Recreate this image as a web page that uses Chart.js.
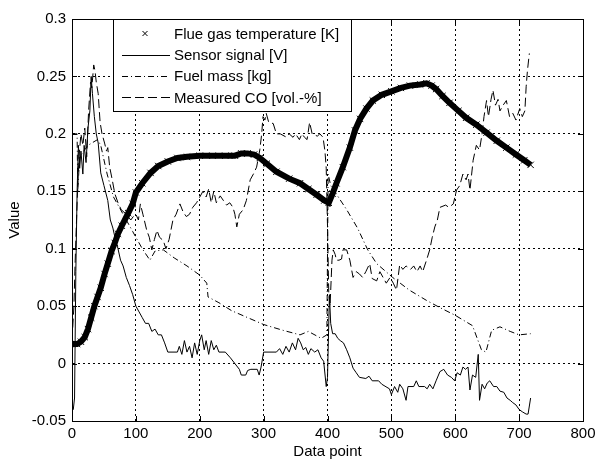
<!DOCTYPE html>
<html lang="en">
<head>
  <meta charset="UTF-8">
  <title>Value vs data point</title>
  <script src="https://cdn.jsdelivr.net/npm/chart.js@4.4.1/dist/chart.umd.min.js"></script>
  <style>
    body { margin: 0; background: #fff; }
    #wrap { width: 596px; height: 461px; }
  </style>
</head>
<body>
  <div id="wrap"><canvas id="myChart" width="596" height="461"></canvas></div>
  <script>
    const seriesNames = ['Flue gas temperature [K]', 'Sensor signal [V]', 'Fuel mass [kg]', 'Measured CO [vol.-%]'];
    const xTicks = [0, 100, 200, 300, 400, 500, 600, 700, 800];
    const yTicks = [-0.05, 0, 0.05, 0.1, 0.15, 0.2, 0.25, 0.3];

    // flue gas temperature (scaled)
    const tempX = [0, 8, 14, 20, 25, 30, 35, 40, 45, 51, 56, 62, 67, 72, 78, 88, 95, 100, 110, 123, 135, 150, 165, 180, 200, 220, 240, 255, 265, 275, 285, 294, 305, 320, 340, 357, 370, 383, 395, 402, 408, 414, 424, 435, 443, 451, 461, 471, 485, 500, 515, 529, 545, 555, 563, 570, 580, 591, 605, 617, 633, 649, 665, 680, 695, 708, 718];
    const tempY = [0.017, 0.017, 0.019, 0.023, 0.03, 0.04, 0.05, 0.058, 0.066, 0.078, 0.087, 0.098, 0.105, 0.113, 0.12, 0.131, 0.139, 0.149, 0.157, 0.166, 0.172, 0.176, 0.179, 0.18, 0.181, 0.181, 0.181, 0.181, 0.183, 0.183, 0.182, 0.179, 0.174, 0.167, 0.161, 0.157, 0.152, 0.147, 0.142, 0.14, 0.148, 0.157, 0.171, 0.188, 0.203, 0.213, 0.222, 0.229, 0.234, 0.237, 0.24, 0.242, 0.243, 0.244, 0.242, 0.239, 0.233, 0.227, 0.22, 0.214, 0.208, 0.201, 0.194, 0.188, 0.182, 0.177, 0.173];

    const sensorX = [0, 2, 4, 6, 8, 10, 12, 14, 17, 19, 22, 25, 28, 30, 32, 35, 38, 41, 45, 50, 56, 60, 64, 68, 72, 76, 80, 85, 90, 95, 100, 105, 110, 115, 120, 125, 130, 135, 140, 145, 150, 165, 168, 172, 176, 180, 184, 188, 192, 196, 200, 203, 207, 210, 214, 218, 222, 226, 230, 240, 248, 255, 262, 265, 272, 275, 280, 290, 293, 296, 300, 320, 325, 330, 335, 340, 345, 350, 354, 358, 362, 366, 370, 374, 380, 385, 390, 394, 398, 400, 403, 405, 408, 412, 416, 420, 425, 430, 435, 440, 445, 450, 460, 465, 470, 480, 485, 497, 500, 505, 510, 513, 518, 523, 526, 535, 539, 543, 552, 556, 560, 565, 570, 576, 582, 588, 594, 599, 603, 608, 612, 616, 620, 623, 627, 632, 636, 638, 642, 646, 650, 654, 660, 665, 670, 676, 681, 686, 690, 695, 700, 705, 711, 714, 718];
    const sensorY = [-0.038, -0.04, -0.03, 0.08, 0.15, 0.19, 0.17, 0.185, 0.165, 0.19, 0.175, 0.205, 0.22, 0.25, 0.235, 0.215, 0.2, 0.192, 0.166, 0.155, 0.142, 0.125, 0.118, 0.108, 0.1, 0.09, 0.085, 0.075, 0.068, 0.06, 0.05, 0.045, 0.04, 0.035, 0.035, 0.028, 0.03, 0.025, 0.025, 0.018, 0.01, 0.01, 0.015, 0.008, 0.02, 0.01, 0.015, 0.005, 0.018, 0.008, 0.02, 0.025, 0.012, 0.02, 0.008, 0.02, 0.012, 0.016, 0.01, 0.01, 0.005, 0.0, -0.005, -0.01, -0.01, -0.006, -0.005, -0.005, -0.01, -0.003, 0.01, 0.01, 0.013, 0.008, 0.015, 0.01, 0.018, 0.012, 0.022, 0.018, 0.012, 0.014, 0.008, 0.013, 0.01, 0.012, 0.005, 0.002, -0.02, -0.012, 0.06, 0.035, 0.026, 0.026, 0.022, 0.02, 0.018, 0.012, 0.005, -0.004, -0.008, -0.012, -0.013, -0.011, -0.015, -0.015, -0.018, -0.022, -0.027, -0.02, -0.025, -0.018, -0.022, -0.032, -0.02, -0.02, -0.015, -0.02, -0.02, -0.022, -0.018, -0.022, -0.015, -0.007, -0.005, -0.01, -0.012, -0.015, -0.008, -0.01, -0.003, -0.005, -0.003, -0.023, -0.01, -0.012, 0.008, -0.032, -0.018, -0.022, -0.017, -0.015, -0.02, -0.02, -0.024, -0.025, -0.03, -0.032, -0.034, -0.036, -0.04, -0.042, -0.044, -0.044, -0.03];

    const fuelX = [0, 8, 9, 12, 25, 40, 45, 55, 65, 75, 85, 95, 103, 110, 122, 130, 143, 160, 180, 200, 211, 213, 230, 250, 275, 300, 330, 357, 370, 390, 399, 401, 405, 430, 447, 463, 477, 502, 528, 555, 575, 600, 627, 641, 648, 657, 670, 686, 700, 718];
    const fuelY = [0.2, 0.2, 0.15, 0.18, 0.19, 0.195, 0.19, 0.165, 0.145, 0.135, 0.125, 0.115, 0.107, 0.1, 0.09, 0.098, 0.099, 0.092, 0.085, 0.077, 0.07, 0.058, 0.053, 0.046, 0.04, 0.034, 0.029, 0.025, 0.028, 0.022, 0.025, 0.165, 0.155, 0.134, 0.118, 0.099, 0.087, 0.075, 0.064, 0.055, 0.049, 0.042, 0.033, 0.012, 0.01, 0.029, 0.032, 0.028, 0.025, 0.026];

    const coX = [0, 3, 5, 8, 11, 14, 17, 20, 23, 26, 29, 31, 34, 36, 38, 41, 44, 47, 51, 54, 56, 59, 63, 67, 72, 77, 85, 92, 96, 100, 104, 107, 111, 117, 121, 125, 129, 133, 137, 143, 147, 152, 158, 163, 169, 174, 179, 184, 189, 195, 200, 205, 210, 214, 218, 222, 226, 232, 237, 242, 247, 252, 255, 258, 262, 268, 273, 279, 284, 289, 294, 297, 299, 302, 304, 308, 315, 320, 326, 336, 340, 346, 350, 356, 360, 364, 368, 372, 376, 384, 388, 393, 396, 398, 400, 402, 404, 407, 409, 412, 414, 418, 422, 424, 430, 435, 440, 445, 450, 455, 460, 466, 470, 477, 482, 487, 492, 498, 503, 508, 513, 518, 523, 530, 535, 540, 545, 549, 555, 560, 564, 568, 572, 576, 585, 590, 597, 602, 607, 612, 617, 620, 623, 628, 633, 638, 642, 645, 649, 652, 656, 659, 663, 667, 670, 675, 680, 685, 690, 695, 701, 705, 709, 711, 713, 716];
    const coY = [0.02, 0.05, 0.09, 0.14, 0.18, 0.2, 0.19, 0.205, 0.18, 0.22, 0.245, 0.24, 0.26, 0.255, 0.245, 0.235, 0.21, 0.2, 0.192, 0.185, 0.188, 0.171, 0.16, 0.148, 0.14, 0.134, 0.13, 0.125, 0.128, 0.13, 0.125, 0.139, 0.13, 0.116, 0.11, 0.099, 0.108, 0.116, 0.11, 0.107, 0.1, 0.108, 0.125, 0.13, 0.139, 0.132, 0.128, 0.13, 0.136, 0.14, 0.145, 0.15, 0.145, 0.152, 0.14, 0.15, 0.14, 0.146, 0.142, 0.138, 0.14, 0.136, 0.13, 0.119, 0.13, 0.134, 0.142, 0.16, 0.165, 0.171, 0.186, 0.2, 0.215, 0.212, 0.218, 0.21, 0.209, 0.2, 0.2, 0.197, 0.2, 0.197, 0.2, 0.195, 0.2, 0.197, 0.195, 0.21, 0.2, 0.198, 0.2, 0.197, 0.185, 0.17, 0.12, 0.06, 0.05, 0.09, 0.099, 0.095, 0.09, 0.09, 0.091, 0.099, 0.099, 0.09, 0.075, 0.08, 0.078, 0.075, 0.08, 0.087, 0.074, 0.072, 0.08, 0.075, 0.07, 0.075, 0.07, 0.064, 0.086, 0.082, 0.085, 0.082, 0.085, 0.08, 0.085, 0.08, 0.09, 0.099, 0.11, 0.119, 0.125, 0.136, 0.138, 0.136, 0.139, 0.151, 0.155, 0.165, 0.16, 0.165, 0.151, 0.177, 0.19, 0.186, 0.2, 0.215, 0.229, 0.215, 0.23, 0.238, 0.225, 0.23, 0.22, 0.225, 0.229, 0.215, 0.218, 0.212, 0.222, 0.215, 0.22, 0.241, 0.255, 0.27];

    function pts(xs, ys) {
      return xs.map((x, i) => ({ x: x, y: ys[i] }));
    }

    const fontFam = '"Liberation Sans", Arial, sans-serif';
    Chart.defaults.font.family = fontFam;
    Chart.defaults.font.size = 15;
    Chart.defaults.color = '#000';

    const dashes = [[], [], [6, 3, 1, 3], [9, 4]];

    // frame, inward tick marks and the boxed legend
    const boxLegend = {
      id: 'boxLegend',
      afterDraw(chart) {
        const ctx = chart.ctx;
        const a = chart.chartArea;
        const sx = chart.scales.x, sy = chart.scales.y;
        ctx.save();
        ctx.strokeStyle = '#000';
        ctx.lineWidth = 1;
        ctx.setLineDash([]);
        ctx.strokeRect(Math.round(a.left) + 0.5, Math.round(a.top) + 0.5, Math.round(a.right - a.left), Math.round(a.bottom - a.top));

        ctx.beginPath();
        xTicks.forEach(v => {
          const px = Math.round(sx.getPixelForValue(v)) + 0.5;
          ctx.moveTo(px, a.bottom); ctx.lineTo(px, a.bottom - 5);
          ctx.moveTo(px, a.top); ctx.lineTo(px, a.top + 5);
        });
        yTicks.forEach(v => {
          const py = Math.round(sy.getPixelForValue(v)) + 0.5;
          ctx.moveTo(a.left, py); ctx.lineTo(a.left + 5, py);
          ctx.moveTo(a.right, py); ctx.lineTo(a.right - 5, py);
        });
        ctx.stroke();

        const bx = Math.round(a.left) + 41, by = Math.round(a.top), bw = 238, bh = 92;
        ctx.fillStyle = '#fff';
        ctx.fillRect(bx, by, bw, bh);
        ctx.strokeRect(bx + 0.5, by + 0.5, bw, bh);

        ctx.font = '15px ' + fontFam;
        ctx.textBaseline = 'middle';
        ctx.fillStyle = '#000';
        seriesNames.forEach((name, i) => {
          const y = by + 14.5 + i * 21.3;
          if (i === 0) {
            const cx = bx + 32, r = 2.5;
            ctx.beginPath();
            ctx.moveTo(cx - r, y - r); ctx.lineTo(cx + r, y + r);
            ctx.moveTo(cx - r, y + r); ctx.lineTo(cx + r, y - r);
            ctx.stroke();
          } else {
            ctx.setLineDash(dashes[i]);
            ctx.beginPath();
            ctx.moveTo(bx + 9, Math.round(y) + 0.5);
            ctx.lineTo(bx + 57, Math.round(y) + 0.5);
            ctx.stroke();
            ctx.setLineDash([]);
          }
          ctx.fillText(name, bx + 61, y + 1);
        });
        ctx.restore();
      }
    };

    const ctx = document.getElementById('myChart');
    new Chart(ctx, {
      type: 'line',
      data: {
        datasets: [{
          label: seriesNames[0],
          data: pts(tempX, tempY),
          borderColor: '#000',
          borderWidth: 6,
          pointStyle: 'crossRot',
          pointRadius: 4.5,
          pointBorderWidth: 1,
          pointBorderColor: '#000',
          order: 2
        }, {
          label: seriesNames[1],
          data: pts(sensorX, sensorY),
          borderColor: '#000',
          borderWidth: 1,
          pointRadius: 0,
          order: 1
        }, {
          label: seriesNames[2],
          data: pts(fuelX, fuelY),
          borderColor: '#000',
          borderWidth: 1,
          borderDash: dashes[2],
          pointRadius: 0,
          order: 1
        }, {
          label: seriesNames[3],
          data: pts(coX, coY),
          borderColor: '#000',
          borderWidth: 1,
          borderDash: dashes[3],
          pointRadius: 0,
          order: 1
        }]
      },
      options: {
        responsive: false,
        animation: false,
        layout: { padding: { top: 19, right: 13, left: 0, bottom: 0 } },
        plugins: {
          legend: { display: false },
          tooltip: { enabled: false }
        },
        scales: {
          x: {
            type: 'linear',
            min: 0,
            max: 800,
            afterBuildTicks: s => { s.ticks = xTicks.map(v => ({ value: v })); },
            afterFit: s => { s.height = 40; s.paddingLeft = 0; s.paddingRight = 0; },
            ticks: { padding: 4, maxRotation: 0, callback: v => String(v) },
            grid: { color: '#000', lineWidth: 1, drawTicks: false },
            border: { color: '#000', width: 1, dash: [2, 3] },
            title: { display: true, text: 'Data point', padding: { top: 0, bottom: 0 } }
          },
          y: {
            min: -0.05,
            max: 0.3,
            afterBuildTicks: s => { s.ticks = yTicks.map(v => ({ value: v })); },
            afterFit: s => { s.width = 72; s.paddingTop = 0; s.paddingBottom = 0; },
            ticks: { padding: 6, callback: v => String(+v.toFixed(2)) },
            grid: { color: '#000', lineWidth: 1, drawTicks: false },
            border: { color: '#000', width: 1, dash: [2, 3] },
            title: { display: true, text: 'Value', padding: { top: 6, bottom: 0 } }
          }
        }
      },
      plugins: [boxLegend]
    });
  </script>
</body>
</html>
